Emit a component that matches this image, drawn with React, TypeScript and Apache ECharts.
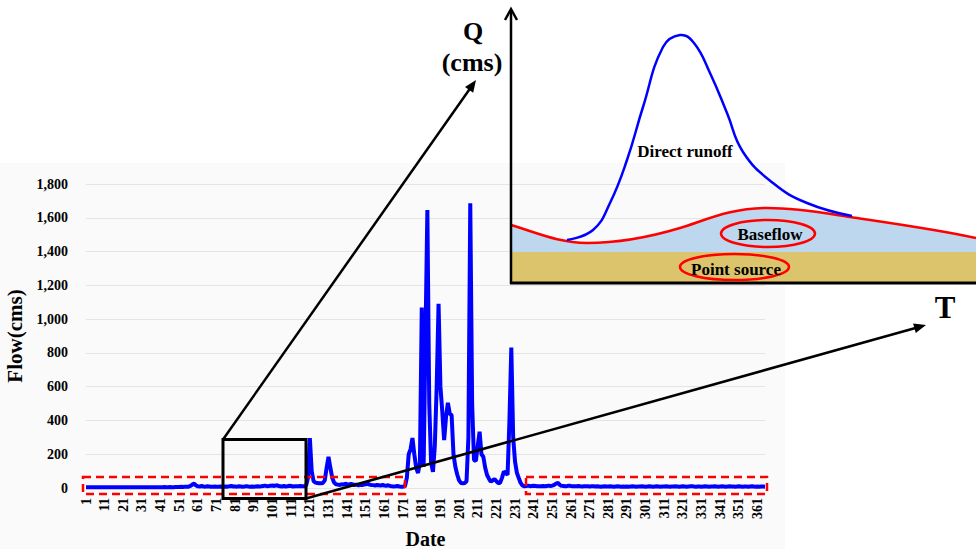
import React, { useEffect, useRef } from "react";
import * as echarts from "echarts";

// Daily flow (cms), day 1 .. day 365, split into ten-day blocks
const flowDays001to060 = [
  5, 5, 5, 5, 5, 5, 5, 5, 5, 5,
  5, 5, 5, 5, 5, 5, 5, 5, 5, 5,
  5, 5, 5, 5, 5, 5, 5, 5, 5, 5,
  5, 5, 5, 5, 5, 5, 5, 5, 5, 5,
  5, 5, 6, 5, 5, 6, 5, 5, 6, 6,
  6, 7, 6, 8, 7, 8, 12, 20, 26, 15,
];
const flowDays061to120 = [
  10, 9, 12, 9, 8, 10, 9, 8, 8, 9,
  8, 8, 9, 8, 8, 9, 8, 10, 12, 9,
  9, 8, 10, 9, 8, 9, 11, 9, 8, 9,
  8, 9, 10, 9, 10, 12, 14, 11, 12, 14,
  15, 12, 16, 13, 10, 9, 12, 9, 10, 13,
  12, 9, 10, 11, 10, 12, 11, 10, 14, 60,
];
const flowDays121to170 = [
  295, 100, 40, 32, 30, 28, 28, 30, 45, 120,
  185, 120, 60, 32, 22, 20, 18, 22, 20, 25,
  22, 20, 24, 21, 18, 20, 16, 18, 17, 20,
  22, 26, 20, 18, 17, 15, 18, 16, 14, 18,
  15, 13, 16, 12, 10, 9, 10, 12, 9, 8,
];
const flowDays171to240 = [
  8, 10, 60, 200, 230, 296, 200, 120, 89, 150,
  1068, 125, 900, 1646, 500, 150, 95, 250, 600, 1090,
  600, 452, 284, 420, 505, 440, 432, 200, 126, 80,
  45, 30, 28, 30, 40, 300, 1686, 500, 166, 160,
  250, 333, 200, 185, 120, 77, 55, 37, 45, 53,
  40, 30, 30, 60, 97, 90, 77, 400, 831, 300,
  156, 90, 59, 30, 15, 10, 12, 14, 11, 12,
];
const flowDays241to365 = [
  13, 12, 11, 10, 11, 12, 10, 12, 14, 12,
  14, 18, 26, 30, 18, 13, 12, 11, 12, 14,
  12, 11, 10, 11, 12, 10, 9, 10, 11, 10,
  9, 10, 11, 9, 10, 9, 8, 9, 10, 9,
  9, 10, 9, 8, 9, 10, 9, 8, 9, 8,
  9, 8, 9, 10, 9, 8, 9, 9, 10, 9,
  8, 9, 10, 9, 8, 9, 10, 9, 8, 9,
  9, 10, 9, 8, 9, 9, 10, 9, 8, 9,
  10, 9, 8, 9, 10, 11, 9, 8, 9, 9,
  8, 9, 10, 9, 8, 9, 9, 10, 9, 8,
  9, 10, 9, 8, 9, 10, 9, 9, 8, 9,
  10, 9, 8, 9, 9, 8, 9, 10, 9, 8,
  9, 8, 9, 9, 8,
];
const flow = [
  ...flowDays001to060,
  ...flowDays061to120,
  ...flowDays121to170,
  ...flowDays171to240,
  ...flowDays241to365,
];
const dayLabels = flow.map((_, i) => String(i + 1));

const yMax = 1800;
const yStep = 200;

const SERIF = "'Liberation Serif', 'Times New Roman', serif";

// Hydrograph sketch: baseflow curve and the area under it
const baseflowCurve =
  "M511,225 C540,234 560,243 587,243 C620,243 650,237 680,228 C705,220.5 730,208 767,208 C800,208 830,214 850,217 C890,223 940,230 976,238";
const baseflowArea = baseflowCurve + " L976,252 L511,252 Z";

echarts.graphic.registerShape("baseflowLine", echarts.graphic.extendPath(baseflowCurve, {}));
echarts.graphic.registerShape("baseflowFill", echarts.graphic.extendPath(baseflowArea, {}));

const runoffPoints = [
  [567, 240], [593, 230], [610, 203], [627, 160], [643, 107], [663, 47],
  [680, 35], [694, 43], [710, 73], [727, 113], [743, 152], [773, 183],
  [807, 203], [852, 216],
];

function arrow(x1: number, y1: number, x2: number, y2: number, z: number) {
  const dx = x2 - x1;
  const dy = y2 - y1;
  const L = Math.hypot(dx, dy);
  const ux = dx / L;
  const uy = dy / L;
  const len = 12;
  const half = 5;
  const bx = x2 - ux * len;
  const by = y2 - uy * len;
  return [
    {
      type: "line",
      z,
      silent: true,
      shape: { x1, y1, x2: bx + ux * 2, y2: by + uy * 2 },
      style: { stroke: "#000", lineWidth: 2.5 },
    },
    {
      type: "polygon",
      z,
      silent: true,
      shape: {
        points: [
          [x2, y2],
          [bx - uy * half, by + ux * half],
          [bx + uy * half, by - ux * half],
        ],
      },
      style: { fill: "#000" },
    },
  ];
}

function label(text: string, x: number, y: number, size: number, z: number) {
  return {
    type: "text",
    x,
    y,
    z,
    silent: true,
    style: {
      text,
      fill: "#000",
      font: `bold ${size}px ${SERIF}`,
      align: "center",
      verticalAlign: "middle",
    },
  };
}

export default function App() {
  const ref = useRef<HTMLDivElement>(null);

  useEffect(() => {
    if (!ref.current) return;
    const chart = echarts.init(ref.current, undefined, { renderer: "svg" });

    const graphics: any[] = [
      {
        type: "rect",
        z: -10,
        silent: true,
        shape: { x: 0, y: 163, width: 785, height: 386 },
        style: { fill: "#fafafa" },
      },
      // sketch inset
      {
        type: "rect",
        z: 50,
        silent: true,
        shape: { x: 511, y: 252, width: 465, height: 31 },
        style: { fill: "#dcc46c" },
      },
      {
        type: "baseflowFill",
        z: 50,
        silent: true,
        x: 0,
        y: 0,
        scaleX: 1,
        scaleY: 1,
        style: { fill: "#bdd7ee" },
      },
      {
        type: "baseflowLine",
        z: 52,
        silent: true,
        x: 0,
        y: 0,
        scaleX: 1,
        scaleY: 1,
        style: { fill: null, stroke: "#ff0000", lineWidth: 2.5 },
      },
      {
        type: "polyline",
        z: 52,
        silent: true,
        shape: { points: runoffPoints, smooth: 0.45 },
        style: { fill: null, stroke: "#0000ff", lineWidth: 2.5 },
      },
      {
        type: "line",
        z: 53,
        silent: true,
        shape: { x1: 511, y1: 284, x2: 511, y2: 10 },
        style: { stroke: "#000", lineWidth: 2.5 },
      },
      {
        type: "polyline",
        z: 53,
        silent: true,
        shape: { points: [[505, 20], [511, 9], [517, 20]] },
        style: { fill: null, stroke: "#000", lineWidth: 2.5 },
      },
      {
        type: "line",
        z: 53,
        silent: true,
        shape: { x1: 510, y1: 283, x2: 976, y2: 283 },
        style: { stroke: "#000", lineWidth: 3 },
      },
      {
        type: "ellipse",
        z: 54,
        silent: true,
        shape: { cx: 768, cy: 233.5, rx: 47, ry: 13.5 },
        style: { fill: null, stroke: "#ff0000", lineWidth: 2.5 },
      },
      {
        type: "ellipse",
        z: 54,
        silent: true,
        shape: { cx: 734.5, cy: 267, rx: 54.5, ry: 13 },
        style: { fill: null, stroke: "#ff0000", lineWidth: 2.5 },
      },
      label("Direct runoff", 685, 151, 17, 55),
      label("Baseflow", 770, 234, 17, 55),
      label("Point source", 736, 269, 17, 55),
      label("Q", 473, 31, 26, 55),
      label("(cms)", 472, 62, 26, 55),
      label("T", 945, 307, 31, 55),
      // highlighted low-flow periods
      {
        type: "rect",
        z: 40,
        silent: true,
        shape: { x: 83, y: 477, width: 322, height: 17 },
        style: { fill: null, stroke: "#ff0000", lineWidth: 2.5, lineDash: [8, 5] },
      },
      {
        type: "rect",
        z: 40,
        silent: true,
        shape: { x: 526, y: 477, width: 241, height: 17 },
        style: { fill: null, stroke: "#ff0000", lineWidth: 2.5, lineDash: [8, 5] },
      },
      // zoom window and its pointers
      {
        type: "rect",
        z: 45,
        silent: true,
        shape: { x: 223, y: 439.5, width: 83, height: 59 },
        style: { fill: null, stroke: "#000", lineWidth: 3 },
      },
      ...arrow(223, 439.5, 476, 80, 45),
      ...arrow(306, 498.5, 926, 325, 45),
    ];

    chart.setOption({
      animation: false,
      backgroundColor: "#ffffff",
      grid: {
        left: 86,
        right: 211,
        top: 184,
        bottom: 61,
        containLabel: false,
        outerBoundsMode: "none",
      },
      xAxis: {
        type: "category",
        data: dayLabels,
        boundaryGap: false,
        name: "Date",
        nameLocation: "middle",
        nameGap: 41,
        nameMoveOverlap: false,
        nameTextStyle: { fontFamily: SERIF, fontWeight: "bold", fontSize: 20, color: "#000" },
        axisLine: { show: false },
        axisTick: { show: false },
        axisLabel: {
          interval: 9,
          rotate: 90,
          margin: 10,
          hideOverlap: false,
          fontFamily: SERIF,
          fontWeight: "bold",
          fontSize: 14,
          color: "#000",
        },
        splitLine: { show: false },
      },
      yAxis: {
        type: "value",
        min: 0,
        max: yMax,
        interval: yStep,
        name: "Flow(cms)",
        nameLocation: "middle",
        nameGap: 61,
        nameMoveOverlap: false,
        nameTextStyle: { fontFamily: SERIF, fontWeight: "bold", fontSize: 21, color: "#000" },
        axisLine: { show: false },
        axisTick: { show: false },
        axisLabel: {
          margin: 18,
          fontFamily: SERIF,
          fontWeight: "bold",
          fontSize: 14,
          color: "#000",
          formatter: (v: number) => v.toLocaleString("en-US"),
        },
        splitLine: { show: true, lineStyle: { color: "#e4e4e4", width: 1 } },
      },
      series: [
        {
          type: "line",
          data: flow,
          showSymbol: false,
          symbol: "none",
          lineStyle: { color: "#0000ff", width: 4 },
          z: 3,
        },
      ],
      graphic: graphics,
    });

    return () => chart.dispose();
  }, []);

  return (
    <div
      ref={ref}
      style={{ position: "absolute", left: 0, top: 0, width: 976, height: 549 }}
    />
  );
}
